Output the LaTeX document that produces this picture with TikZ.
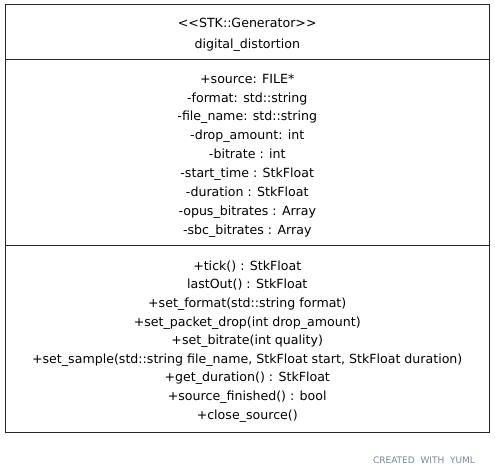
\documentclass[tikz,border=0pt]{standalone}
\usepackage{fontspec}
\setmainfont{DejaVu Sans}
\usetikzlibrary{positioning}
\definecolor{yumlgrey}{HTML}{7A8799}
\newcommand{\padtop}[1]{\mbox{}\\[#1]}

\begin{document}
\begin{tikzpicture}[
        x=1pt, y=1pt,
        part/.style={draw=black!85, line width=1pt, minimum width=483.5pt, inner sep=0pt, outer sep=0pt, align=center},
        umltext/.style={font=\fontsize{12.6}{18.9}\selectfont}
    ]
        \useasboundingbox (0,0) rectangle (495,475);

        % Class header
        \node[part, umltext, minimum height=55pt, font=\fontsize{12.6}{20.5}\selectfont] (head) at (247.25, 442.5) {%
            \padtop{-6.5pt}
            <{}<STK::Generator>{}>\\
            digital\_distortion};

        % Attributes
        \node[part, umltext, minimum height=185pt, below=0pt of head] (attrs) {%
            \padtop{-3.4pt}
            +source: FILE*\\
            -format: std::string\\
            -file\_name: std::string\\
            -drop\_amount: int\\
            -bitrate : int\\
            -start\_time : StkFloat\\
            -duration : StkFloat\\
            -opus\_bitrates : Array\\
            -sbc\_bitrates : Array};

        % Methods
        \node[part, umltext, minimum height=187pt, below=0pt of attrs, font=\fontsize{12.6}{18.6}\selectfont] (meths) {%
            \padtop{-3.1pt}
            +tick() : StkFloat\\
            lastOut() : StkFloat\\
            +set\_format(std::string format)\\
            +set\_packet\_drop(int drop\_amount)\\
            +set\_bitrate(int quality)\\
            +set\_sample(std::string file\_name, StkFloat start, StkFloat duration)\\
            +get\_duration() : StkFloat\\
            +source\_finished() : bool\\
            +close\_source()};

        % Footer
        \node[font=\fontsize{9}{10}\selectfont, text=yumlgrey, anchor=east] (credit) at (478.5, 15) {CREATED\ \ WITH\ \ YUML};
    \end{tikzpicture}
\end{document}
